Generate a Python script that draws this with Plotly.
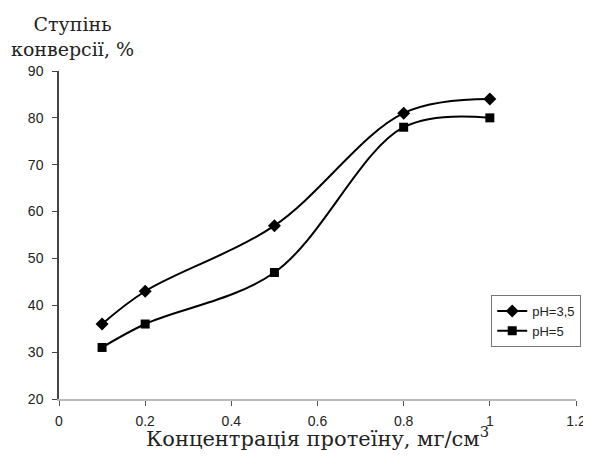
import plotly.graph_objects as go

x_vals = [0.1, 0.2, 0.5, 0.8, 1.0]
ph35 = [36, 43, 57, 81, 84]
ph5 = [31, 36, 47, 78, 80]
series_names = ["pH=3,5", "pH=5"]

fig = go.Figure()
fig.add_trace(go.Scatter(x=x_vals, y=ph35, name=series_names[0], mode="lines+markers",
                         line=dict(color="black", width=2, shape="spline", smoothing=1),
                         marker=dict(symbol="diamond", size=10, color="black")))
fig.add_trace(go.Scatter(x=x_vals, y=ph5, name=series_names[1], mode="lines+markers",
                         line=dict(color="black", width=2, shape="spline", smoothing=1),
                         marker=dict(symbol="square", size=9, color="black")))

tick_font = dict(family="Liberation Sans", size=14, color="#222")
serif = "DejaVu Serif"
fig.update_layout(
    width=583, height=443,
    paper_bgcolor="white", plot_bgcolor="white",
    margin=dict(l=51, r=15, t=63, b=52, autoexpand=False),
    showlegend=True,
    legend=dict(x=0.836, y=0.317, xanchor="left", yanchor="top",
                bordercolor="#777", borderwidth=1, bgcolor="white",
                font=dict(family="Liberation Sans", size=13, color="#222"),
                tracegroupgap=0, itemwidth=30),
    xaxis=dict(range=[0, 1.2], dtick=0.2, showgrid=False, zeroline=False,
               showline=True, linecolor="#bbb", linewidth=1.5, ticks="outside",
               tickcolor="#555", ticklen=5, tickfont=tick_font,
               ticklabeloverflow="allow", ticklabelstandoff=3,
               title=dict(text="Концентрація протеїну, мг/см<sup>3</sup>",
                          font=dict(family=serif, size=21, color="#222"),
                          standoff=9)),
    yaxis=dict(range=[20, 90], dtick=10, showgrid=False, zeroline=False,
               showline=True, linecolor="#444", linewidth=1.5, ticks="outside",
               tickcolor="#444", ticklen=5, tickfont=tick_font,
               ticklabelstandoff=6),
    annotations=[dict(text="Ступінь<br>конверсії, %", xref="paper", yref="paper",
                      x=0.027, y=1.183, showarrow=False, align="center",
                      xanchor="center", yanchor="top",
                      font=dict(family=serif, size=19, color="#222"))],
)
fig.write_html("out.html")
